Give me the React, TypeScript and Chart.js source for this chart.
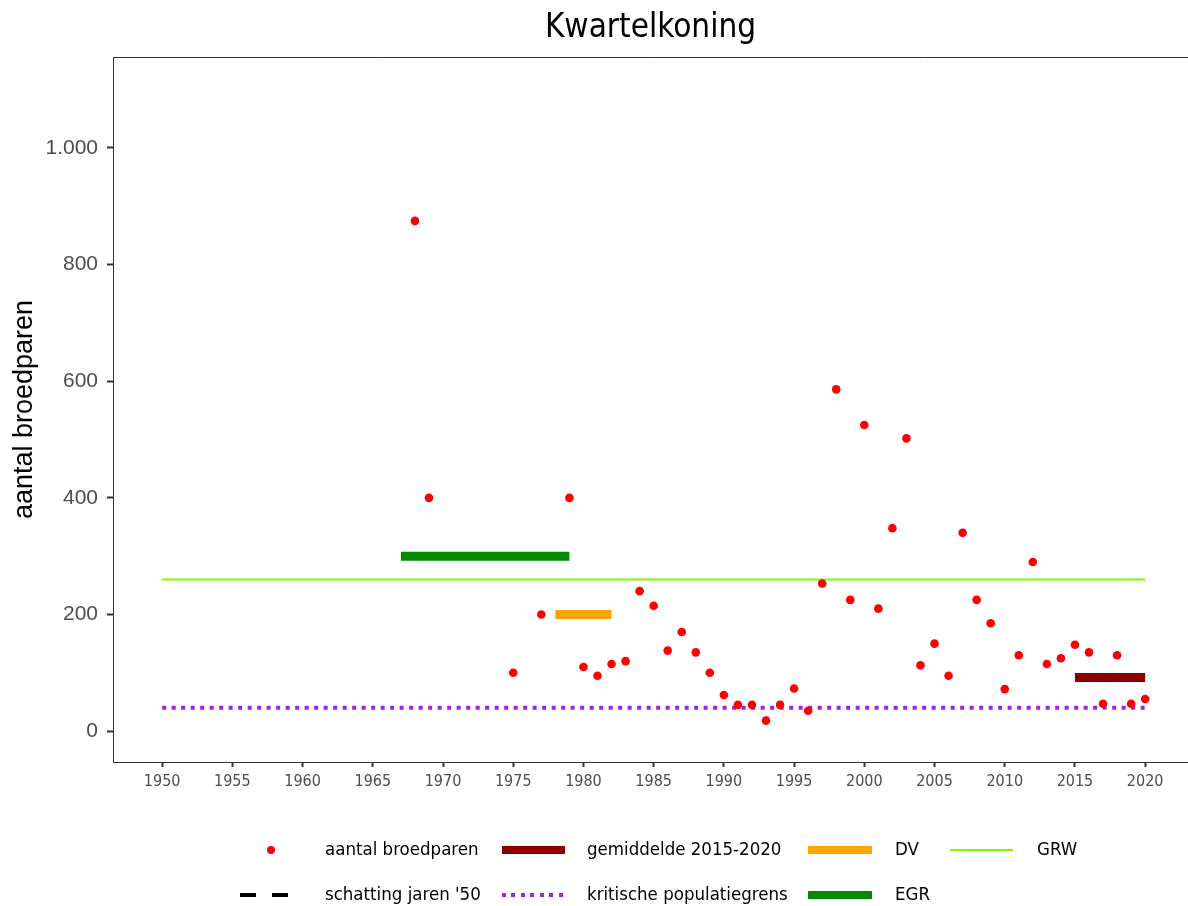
import React, { useEffect, useRef } from "react";
import { Chart, registerables } from "chart.js";

Chart.register(...registerables);

const years = [1968, 1969, 1975, 1977, 1979, 1980, 1981, 1982, 1983, 1984, 1985, 1986, 1987, 1988, 1989, 1990, 1991, 1992, 1993, 1994, 1995, 1996, 1997, 1998, 1999, 2000, 2001, 2002, 2003, 2004, 2005, 2006, 2007, 2008, 2009, 2010, 2011, 2012, 2013, 2014, 2015, 2016, 2017, 2018, 2019, 2020];
const pairs = [875, 400, 100, 200, 400, 110, 95, 115, 120, 240, 215, 138, 170, 135, 100, 62, 45, 45, 18, 45, 73, 35, 253, 586, 225, 525, 210, 348, 502, 113, 150, 95, 340, 225, 185, 72, 130, 290, 115, 125, 148, 135, 47, 130, 47, 55];

const grwYears = [1950, 2020];
const grwValue = 260;
const kritischYears = [1950, 2020];
const kritischValue = 40;
const egrYears = [1967, 1979];
const egrValue = 300;
const dvYears = [1978, 1982];
const dvValue = 200;
const gemYears = [2015, 2020];
const gemValue = 92;

const xTicks = [1950, 1955, 1960, 1965, 1970, 1975, 1980, 1985, 1990, 1995, 2000, 2005, 2010, 2015, 2020];
const yTicks = [0, 200, 400, 600, 800, 1000];

const COND = '"DejaVu Sans Condensed", "DejaVu Sans", sans-serif';

function seg(xs: number[], v: number) {
  return xs.map((x) => ({ x, y: v }));
}

const borderPlugin = {
  id: "panelBorder",
  afterDraw(chart: any) {
    const { ctx, chartArea } = chart;
    ctx.save();
    ctx.strokeStyle = "#333333";
    ctx.lineWidth = 1;
    ctx.beginPath();
    ctx.moveTo(chartArea.left, chartArea.top + 0.5);
    ctx.lineTo(chartArea.right + 10, chartArea.top + 0.5);
    ctx.stroke();
    ctx.restore();
  },
};

function App() {
  const ref = useRef<HTMLCanvasElement | null>(null);
  useEffect(() => {
    document.body.style.margin = "0";
    const c = ref.current!;
    const chart = new Chart(c, {
      type: "scatter",
      data: {
        datasets: [
          {
            label: "aantal broedparen",
            data: years.map((x, i) => ({ x, y: pairs[i] })),
            backgroundColor: "#FF0000",
            borderColor: "#FF0000",
            pointRadius: 4.3,
            pointBorderWidth: 0,
            showLine: false,
          },
          {
            label: "gemiddelde 2015-2020",
            data: seg(gemYears, gemValue),
            borderColor: "#8B0000",
            borderWidth: 9,
            pointRadius: 0,
            showLine: true,
            borderCapStyle: "butt",
          },
          {
            label: "DV",
            data: seg(dvYears, dvValue),
            borderColor: "#FFA500",
            borderWidth: 9,
            pointRadius: 0,
            showLine: true,
            borderCapStyle: "butt",
          },
          {
            label: "EGR",
            data: seg(egrYears, egrValue),
            borderColor: "#008B00",
            borderWidth: 9,
            pointRadius: 0,
            showLine: true,
            borderCapStyle: "butt",
          },
          {
            label: "kritische populatiegrens",
            data: seg(kritischYears, kritischValue),
            borderColor: "#A020F0",
            borderWidth: 4,
            borderDash: [4, 5.5],
            pointRadius: 0,
            showLine: true,
            borderCapStyle: "butt",
          },
          {
            label: "GRW",
            data: seg(grwYears, grwValue),
            borderColor: "#7CFC00",
            borderWidth: 2,
            pointRadius: 0,
            showLine: true,
          },
        ],
      },
      options: {
        animation: false,
        responsive: false,
        maintainAspectRatio: false,
        layout: { padding: { left: 0, top: 57, right: 0, bottom: 104 } },
        plugins: { legend: { display: false }, tooltip: { enabled: false }, title: { display: false } },
        scales: {
          x: {
            type: "linear",
            min: 1946.5,
            max: 2023.1,
            afterBuildTicks: (s: any) => {
              s.ticks = xTicks.map((v) => ({ value: v }));
            },
            afterFit: (s: any) => {
              s.height = 40;
              s.paddingLeft = 0;
              s.paddingRight = 0;
            },
            grid: { drawOnChartArea: false, drawTicks: true, tickLength: 5, tickColor: "#333333", tickWidth: 2 },
            border: { display: true, color: "#333333", width: 1 },
            ticks: {
              color: "#4D4D4D",
              font: { family: COND, size: 16 },
              padding: 5,
              maxRotation: 0,
              autoSkip: false,
              callback: (v: any) => String(v),
            },
          },
          y: {
            type: "linear",
            min: -53,
            max: 1156,
            afterBuildTicks: (s: any) => {
              s.ticks = yTicks.map((v) => ({ value: v }));
            },
            afterFit: (s: any) => {
              s.width = 113;
              s.paddingTop = 0;
              s.paddingBottom = 0;
            },
            grid: { drawOnChartArea: false, drawTicks: true, tickLength: 6, tickColor: "#333333", tickWidth: 2 },
            border: { display: true, color: "#333333", width: 1 },
            title: {
              display: true,
              text: "aantal broedparen",
              color: "#000000",
              font: { family: '"Liberation Sans", Arial, sans-serif', size: 27 },
              padding: { top: 8, bottom: 0 },
            },
            ticks: {
              color: "#4D4D4D",
              font: { family: '"Liberation Sans", Arial, sans-serif', size: 21 },
              padding: 9,
              callback: (v: any) => (v >= 1000 ? "1.000" : String(v)),
            },
          },
        },
      },
      plugins: [borderPlugin],
    } as any);
    return () => chart.destroy();
  }, []);

  const txt: React.CSSProperties = {
    position: "absolute",
    fontFamily: COND,
    fontSize: 18.5,
    color: "#000",
    lineHeight: "22px",
    whiteSpace: "nowrap",
  };
  const bar = (left: number, top: number, w: number, h: number, color: string): React.CSSProperties => ({
    position: "absolute",
    left,
    top: top - h / 2,
    width: w,
    height: h,
    background: color,
  });

  const row1 = 850;
  const row2 = 895;

  return (
    <div style={{ position: "relative", width: 1188, height: 906, background: "#fff", overflow: "hidden" }}>
      <canvas ref={ref} width={1193} height={906} style={{ position: "absolute", left: 0, top: 0, width: 1193, height: 906 }} />
      <div
        style={{
          position: "absolute",
          left: 113,
          width: 1075,
          top: 6,
          textAlign: "center",
          fontFamily: COND,
          fontSize: 33,
          lineHeight: "40px",
          color: "#000",
        }}
      >
        Kwartelkoning
      </div>
      {/* legend row 1 */}
      <div style={{ position: "absolute", left: 267, top: row1 - 4, width: 8, height: 8, borderRadius: 4, background: "#FF0000" }} />
      <div style={{ ...txt, left: 325, top: row1 - 12 }}>aantal broedparen</div>
      <div style={bar(502, row1, 63, 8, "#8B0000")} />
      <div style={{ ...txt, left: 587, top: row1 - 12 }}>gemiddelde 2015-2020</div>
      <div style={bar(808, row1, 64, 8, "#FFA500")} />
      <div style={{ ...txt, left: 895, top: row1 - 12 }}>DV</div>
      <div style={bar(950, row1, 63, 2, "#7CFC00")} />
      <div style={{ ...txt, left: 1037, top: row1 - 12 }}>GRW</div>
      {/* legend row 2 */}
      <div style={bar(240, row2, 16, 4, "#000000")} />
      <div style={bar(272, row2, 16, 4, "#000000")} />
      <div style={{ ...txt, left: 325, top: row2 - 12 }}>schatting jaren '50</div>
      <div
        style={{
          position: "absolute",
          left: 502,
          top: row2 - 2,
          width: 63,
          height: 4,
          backgroundImage: "repeating-linear-gradient(to right, #A020F0 0px, #A020F0 4px, transparent 4px, transparent 9.5px)",
        }}
      />
      <div style={{ ...txt, left: 587, top: row2 - 12 }}>kritische populatiegrens</div>
      <div style={bar(808, row2, 64, 8, "#008B00")} />
      <div style={{ ...txt, left: 895, top: row2 - 12 }}>EGR</div>
    </div>
  );
}

export default App;
